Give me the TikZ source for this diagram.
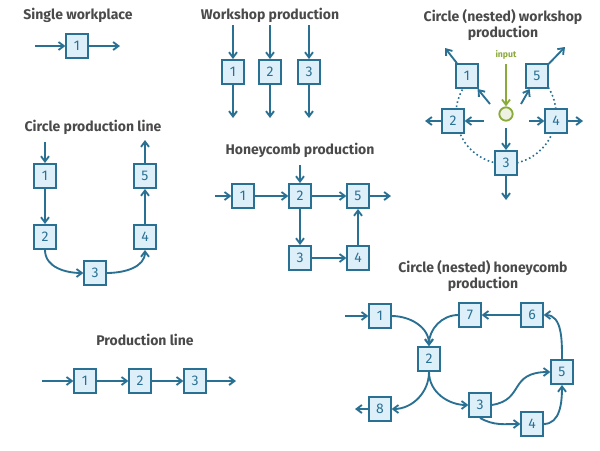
\documentclass[tikz,border=0pt]{standalone}
\usepackage{fontspec}
\setmainfont{Fira Sans}
\usetikzlibrary{arrows.meta}
\definecolor{bl}{HTML}{2A7092}
\definecolor{bf}{HTML}{DDF0FA}
\definecolor{gr}{HTML}{8BAA3C}
\definecolor{tx}{HTML}{4A4A4A}
\begin{document}
\begin{tikzpicture}[x=0.75pt,y=0.75pt,
  b/.style={draw=bl,fill=bf,line width=1.4pt,minimum width=16pt,minimum height=18pt,inner sep=0pt,text=bl,font=\fontsize{10.5}{12}\selectfont},
  t/.style={text=tx,font=\fontsize{10.5}{12.5}\selectfont\bfseries,align=center},
  a/.style={draw=bl,line width=1.4pt,-{Straight Barb[length=4pt,width=6pt]}},
  dt/.style={draw=bl,line width=1.2pt,dotted}]
\useasboundingbox (0,0) rectangle (600,-450);
% Single workplace
\node[t] (t1) at (78,-15) {Single workplace};
\node[b] (s1) at (77,-46) {1};
\coordinate (s1a) at (35,-46); \coordinate (s1b) at (120,-46);
\draw[a] (s1a) -- (s1); \draw[a] (s1) -- (s1b);
% Workshop
\node[t] (t2) at (270,-15) {Workshop production};
\foreach \i/\x in {1/233,2/270,3/309}{
  \node[b] (w\i) at (\x,-72) {\i};
  \coordinate (wa\i) at (\x,-25); \coordinate (wb\i) at (\x,-118);
  \draw[a] (wa\i) -- (w\i); \draw[a] (w\i) -- (wb\i);}
% Circle nested workshop
\node[t] (t3) at (503,-25) {Circle (nested) workshop\\production};
\draw[dt] (506,-114) ++(136:50) arc[start angle=136,end angle=411,radius=37.5pt];
\node[draw=gr,fill=gr!15,line width=1.4pt,circle,minimum size=10pt,inner sep=0pt] (in) at (506,-114) {};
\node[text=gr,font=\fontsize{6.5}{7}\selectfont\bfseries] (inl) at (506,-55) {input};
\draw[draw=gr,line width=1.4pt,-{Straight Barb[length=4pt,width=6pt]}] (inl) -- (in);
\node[b] (c1) at (467,-76) {1};
\node[b] (c5) at (537,-76) {5};
\node[b] (c2) at (453,-121) {2};
\node[b] (c4) at (556,-121) {4};
\node[b] (c3) at (506,-163) {3};
\coordinate (i1) at (490,-104); \coordinate (i5) at (521,-104);
\coordinate (i2) at (484,-121); \coordinate (i4) at (529,-121);
\coordinate (i3) at (506,-128);
\draw[a] (i1) -- (c1); \draw[a] (i5) -- (c5); \draw[a] (i2) -- (c2);
\draw[a] (i4) -- (c4); \draw[a] (i3) -- (c3);
\coordinate (o1) at (445,-48); \coordinate (o5) at (565,-47);
\coordinate (o2) at (425,-121); \coordinate (o4) at (583,-121);
\coordinate (o3) at (506,-200);
\draw[a] (c1) -- (o1); \draw[a] (c5) -- (o5); \draw[a] (c2) -- (o2);
\draw[a] (c4) -- (o4); \draw[a] (c3) -- (o3);
% Circle production line
\node[t] (t4) at (93,-127) {Circle production line};
\node[b] (p1) at (45,-176) {1};
\node[b] (p2) at (45,-237) {2};
\node[b] (p3) at (95,-273) {3};
\node[b] (p4) at (145,-237) {4};
\node[b] (p5) at (145,-176) {5};
\coordinate (pa) at (45,-142); \coordinate (pb) at (145,-140);
\draw[a] (pa) -- (p1); \draw[a] (p1) -- (p2);
\draw[a] (p2.south) to[out=-90,in=180] (p3.west);
\draw[a] (p3.east) to[out=0,in=-90] (p4.south);
\draw[a] (p4) -- (p5); \draw[a] (p5) -- (pb);
% Honeycomb
\node[t] (t5) at (300,-150) {Honeycomb production};
\node[b] (h1) at (243,-196) {1};
\node[b] (h2) at (300,-196) {2};
\node[b] (h5) at (358,-196) {5};
\node[b] (h3) at (300,-258) {3};
\node[b] (h4) at (358,-258) {4};
\coordinate (ha) at (215,-196); \coordinate (hb) at (300,-165); \coordinate (hc) at (391,-196);
\draw[a] (ha) -- (h1); \draw[a] (h1) -- (h2); \draw[a] (hb) -- (h2);
\draw[a] (h2) -- (h5); \draw[a] (h2) -- (h3); \draw[a] (h3) -- (h4);
\draw[a] (h4) -- (h5); \draw[a] (h5) -- (hc);
% Production line
\node[t] (t6) at (145,-340) {Production line};
\node[b] (l1) at (85,-381) {1};
\node[b] (l2) at (140,-381) {2};
\node[b] (l3) at (195,-381) {3};
\coordinate (la) at (42,-381); \coordinate (lb) at (236,-381);
\draw[a] (la) -- (l1); \draw[a] (l1) -- (l2); \draw[a] (l2) -- (l3); \draw[a] (l3) -- (lb);
% Circle nested honeycomb
\node[t] (t7) at (483,-276) {Circle (nested) honeycomb\\production};
\node[b] (n1) at (380,-316) {1};
\node[b] (n7) at (470,-315) {7};
\node[b] (n6) at (532,-315) {6};
\node[b] (n2) at (429,-359) {2};
\node[b] (n5) at (562,-372) {5};
\node[b] (n3) at (480,-405) {3};
\node[b] (n4) at (532,-424) {4};
\node[b] (n8) at (380,-409) {8};
\coordinate (na) at (345,-316); \coordinate (nb) at (355,-409);
\draw[a] (na) -- (n1);
\draw[a] (n1.east) to[out=0,in=90] (n2.north);
\draw[a] (n7.west) to[out=180,in=90] (n2.north);
\draw[a] (n6) -- (n7);
\draw[a] (n5.north) to[out=90,in=0] (n6.east);
\draw[a] (n2.south) to[out=-90,in=0] (n8.east);
\draw[a] (n2.south) to[out=-90,in=180] (n3.west);
\draw[a] (n3.east) .. controls (525,-400) and (508,-372) .. (n5.west);
\draw[a] (n3.south) to[out=-30,in=180] (n4.west);
\draw[a] (n4.east) to[out=0,in=-90] (n5.south);
\draw[a] (n8) -- (nb);
\end{tikzpicture}
\end{document}
